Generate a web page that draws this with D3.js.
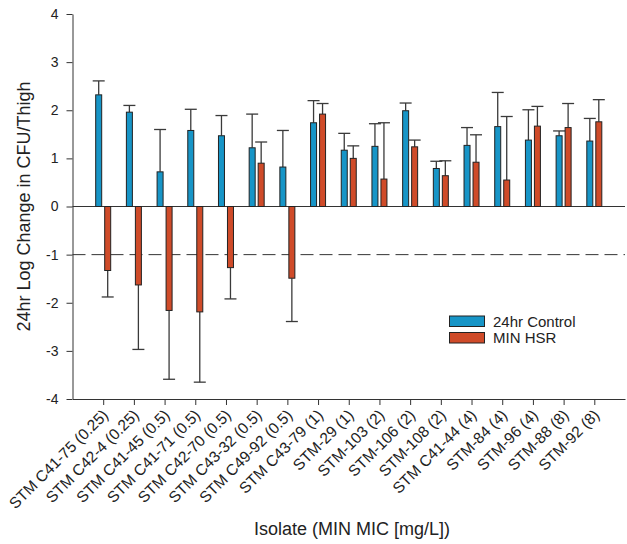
<!DOCTYPE html>
<html>
<head>
<meta charset="utf-8">
<script src="https://cdn.jsdelivr.net/npm/d3@7"></script>
<style>
  body { margin: 0; background: #fff; }
  svg { font-family: "Liberation Sans", Arial, sans-serif; }
</style>
</head>
<body>
<div id="chart"></div>
<script>
// isolates along the x axis
const isolates = ["STM C41-75 (0.25)", "STM C42-4 (0.25)", "STM C41-45 (0.5)", "STM C41-71 (0.5)",
    "STM C42-70 (0.5)", "STM C43-32 (0.5)", "STM C49-92 (0.5)", "STM C43-79 (1)", "STM-29 (1)",
    "STM-103 (2)", "STM-106 (2)", "STM-108 (2)", "STM C41-44 (4)", "STM-84 (4)", "STM-96 (4)",
    "STM-88 (8)", "STM-92 (8)"];

// mean log change and SD for each series
const controlMean = [2.32, 1.96, 0.72, 1.58, 1.47, 1.22, 0.82, 1.74, 1.17, 1.25, 1.99, 0.79, 1.27, 1.66, 1.38, 1.47, 1.36];
const controlSD   = [0.29, 0.14, 0.88, 0.44, 0.42, 0.70, 0.76, 0.46, 0.35, 0.47, 0.16, 0.15, 0.37, 0.71, 0.63, 0.10, 0.47];
const hsrMean = [-1.33, -1.63, -2.16, -2.19, -1.27, 0.90, -1.49, 1.92, 1.00, 0.57, 1.24, 0.64, 0.92, 0.55, 1.67, 1.64, 1.76];
const hsrSD   = [0.55, 1.34, 1.43, 1.46, 0.65, 0.44, 0.90, 0.22, 0.26, 1.17, 0.14, 0.31, 0.57, 1.32, 0.41, 0.50, 0.46];

const yTicks = [-4, -3, -2, -1, 0, 1, 2, 3, 4];
const threshold = -1;
const seriesNames = ["24hr Control", "MIN HSR"];

const W = 627, H = 544;
const COLORS = ["#1795c7", "#cf4b29"];

let svg = d3.select("#chart")
    .append("svg")
    .attr("width", W)
    .attr("height", H);

// scales: categories sit on 1..17 of an 0..18 axis
let x = d3.scaleLinear().domain([0, isolates.length + 1]).range([72.5, 625]);
let y = d3.scaleLinear().domain([-4, 4]).range([399, 14]);

const barW = 6, offset = 4.5;

// Y axis (plain hyphen for negatives, like the original)
let yAxis = svg.append("g")
    .attr("transform", "translate(" + x(0) + ",0)")
    .call(d3.axisLeft(y).tickValues(yTicks).tickFormat(function(d) { return String(d); })
        .tickSize(6).tickSizeOuter(0).tickPadding(8));
yAxis.selectAll("text").style("font-size", "14px").attr("fill", "#222");
yAxis.selectAll("line, path").attr("stroke", "#333");

// X axis at the bottom
let xAxis = svg.append("g")
    .attr("transform", "translate(0," + y(-4) + ")")
    .call(d3.axisBottom(x).tickValues(d3.range(1, isolates.length + 1)).tickSize(6).tickSizeOuter(0).tickFormat(""));
xAxis.selectAll("line, path").attr("stroke", "#333");

// rotated category labels
svg.append("g").selectAll("text")
    .data(isolates)
    .enter()
    .append("text")
    .attr("transform", function(d, i) { return "translate(" + (x(i + 1) + 6) + "," + (y(-4) + 17) + ") rotate(-45)"; })
    .attr("text-anchor", "end")
    .style("font-size", "15.5px")
    .attr("fill", "#222")
    .text(function(d) { return d; });

// zero line
svg.append("line")
    .attr("x1", x(0)).attr("x2", x(isolates.length + 1))
    .attr("y1", y(0)).attr("y2", y(0))
    .attr("stroke", "#333");

// dashed threshold line
svg.append("line")
    .attr("x1", x(0)).attr("x2", x(isolates.length + 1))
    .attr("y1", y(threshold)).attr("y2", y(threshold))
    .attr("stroke", "#333")
    .attr("stroke-dasharray", "13,6");

// bars + one-sided error bars
const series = [
    {mean: controlMean, sd: controlSD, dx: -offset, color: COLORS[0]},
    {mean: hsrMean, sd: hsrSD, dx: offset, color: COLORS[1]}
];

series.forEach(function(s) {
    let g = svg.append("g");
    let rows = s.mean.map(function(m, i) { return {i: i, m: m, sd: s.sd[i]}; });
    let tip = function(d) { return y(d.m >= 0 ? d.m + d.sd : d.m - d.sd); };

    // error whisker away from zero
    g.selectAll("line.err")
        .data(rows)
        .enter()
        .append("line")
        .attr("x1", function(d) { return x(d.i + 1) + s.dx; })
        .attr("x2", function(d) { return x(d.i + 1) + s.dx; })
        .attr("y1", function(d) { return y(d.m); })
        .attr("y2", tip)
        .attr("stroke", "#3a3a3a")
        .attr("stroke-width", 1.3);
    g.selectAll("line.cap")
        .data(rows)
        .enter()
        .append("line")
        .attr("x1", function(d) { return x(d.i + 1) + s.dx - 6; })
        .attr("x2", function(d) { return x(d.i + 1) + s.dx + 6; })
        .attr("y1", tip)
        .attr("y2", tip)
        .attr("stroke", "#3a3a3a")
        .attr("stroke-width", 1.3);

    g.selectAll("rect")
        .data(rows)
        .enter()
        .append("rect")
        .attr("x", function(d) { return x(d.i + 1) + s.dx - barW / 2; })
        .attr("y", function(d) { return y(Math.max(0, d.m)); })
        .attr("width", barW)
        .attr("height", function(d) { return Math.abs(y(d.m) - y(0)); })
        .attr("fill", s.color)
        .attr("stroke", "#222")
        .attr("stroke-width", 1);
});

// legend
let legend = svg.append("g").attr("transform", "translate(449.5,316)");
seriesNames.forEach(function(name, i) {
    legend.append("rect")
        .attr("x", 0).attr("y", i * 16.5)
        .attr("width", 35).attr("height", 10.5)
        .attr("fill", COLORS[i])
        .attr("stroke", "#222");
    legend.append("text")
        .attr("x", 43.5).attr("y", i * 16.5 + 10.5)
        .style("font-size", "15px")
        .attr("fill", "#222")
        .text(name);
});

// axis titles
svg.append("text")
    .attr("transform", "translate(30," + ((80 + 333) / 2) + ") rotate(-90)")
    .attr("text-anchor", "middle")
    .style("font-size", "18px")
    .attr("fill", "#222")
    .text("24hr Log Change in CFU/Thigh");

svg.append("text")
    .attr("x", 352)
    .attr("y", 535)
    .attr("text-anchor", "middle")
    .style("font-size", "18px")
    .attr("fill", "#222")
    .text("Isolate (MIN MIC [mg/L])");
</script>
</body>
</html>
